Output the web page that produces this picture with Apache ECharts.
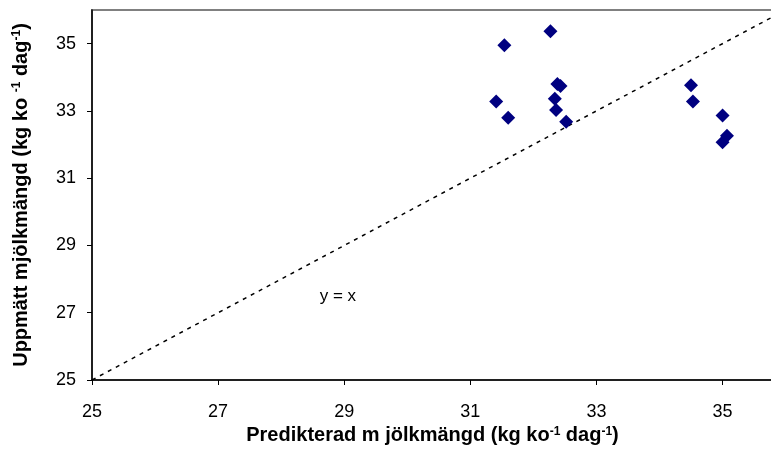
<!DOCTYPE html>
<html>
<head>
    <meta charset="utf-8">
    <title>Predikterad vs uppmätt mjölkmängd</title>
    <script src="https://cdn.jsdelivr.net/npm/echarts@6/dist/echarts.min.js"></script>
    <style>
        html, body { margin: 0; padding: 0; background: #fff; }
        #chart { width: 771px; height: 455px; }
    </style>
</head>
<body>
    <div id="chart"></div>
    <script>
        // predikterad (x) och uppmätt (y) mjölkmängd
        const predicted = [31.54, 32.27, 32.38, 32.43, 31.41, 32.34, 32.36, 31.60, 32.52, 34.50, 34.53, 35.00, 35.07, 35.00];
        const observed  = [34.95, 35.37, 33.80, 33.74, 33.28, 33.36, 33.03, 32.80, 32.68, 33.76, 33.28, 32.86, 32.26, 32.07];
        const identityLine = [[25, 25], [36, 36]];
        const identityLabelPos = [28.9, 27.5];
        const xTicks = { min: 25, max: 35.8, interval: 2 };
        const yTicks = { min: 25, max: 36, interval: 2 };

        const points = predicted.map((x, i) => [x, observed[i]]);

        const nameRich = {
            t: { fontSize: 20, fontWeight: 'bold', fontFamily: 'Liberation Sans', color: '#000' },
            s: { fontSize: 12, fontWeight: 'bold', fontFamily: 'Liberation Sans', color: '#000', verticalAlign: 'top', padding: [0, 0, 8, 0] }
        };

        const chart = echarts.init(document.getElementById('chart'));
        chart.setOption({
            animation: false,
            grid: {
                left: 92, right: -2, top: 10, bottom: 75,
                outerBoundsMode: 'none',
                containLabel: false,
                show: true, borderColor: '#808080', borderWidth: 2
            },
            xAxis: {
                type: 'value',
                min: xTicks.min, max: xTicks.max, interval: xTicks.interval,
                splitLine: { show: false },
                axisLine: { show: true, lineStyle: { color: '#000', width: 1.5 } },
                axisTick: { show: true, length: 5, lineStyle: { color: '#000' } },
                axisLabel: { color: '#000', fontSize: 18, fontFamily: 'Liberation Sans', margin: 23, showMaxLabel: false },
                name: '{t|Predikterad m jölkmängd (kg ko}{s|-1}{t| dag}{s|-1}{t|)}',
                nameLocation: 'middle',
                nameGap: 38,
                nameTextStyle: { rich: nameRich }
            },
            yAxis: {
                type: 'value',
                min: yTicks.min, max: yTicks.max, interval: yTicks.interval,
                splitLine: { show: false },
                axisLine: { show: true, lineStyle: { color: '#000', width: 1.5 } },
                axisTick: { show: true, length: 5, lineStyle: { color: '#000' } },
                axisLabel: { color: '#000', fontSize: 18, fontFamily: 'Liberation Sans', margin: 16, showMaxLabel: false },
                name: '{t|Uppmätt mjölkmängd (kg ko }{s|-1}{t| dag}{s|-1}{t|)}',
                nameLocation: 'middle',
                nameGap: 61,
                nameTextStyle: { rich: nameRich }
            },
            series: [
                {
                    type: 'line',
                    data: identityLine,
                    symbol: 'none',
                    silent: true,
                    lineStyle: { color: '#000', width: 1.5, type: [4, 5] },
                    z: 1
                },
                {
                    type: 'scatter',
                    data: points,
                    symbol: 'diamond',
                    symbolSize: [14, 14],
                    itemStyle: { color: '#000080', opacity: 1 },
                    z: 3
                },
                {
                    type: 'scatter',
                    data: [identityLabelPos],
                    symbolSize: 1,
                    silent: true,
                    itemStyle: { color: 'transparent', opacity: 1 },
                    label: {
                        show: true,
                        formatter: 'y = x',
                        position: 'inside',
                        color: '#000',
                        opacity: 1,
                        textBorderWidth: 0,
                        fontSize: 17,
                        fontFamily: 'Liberation Sans'
                    }
                }
            ]
        });
    </script>
</body>
</html>
